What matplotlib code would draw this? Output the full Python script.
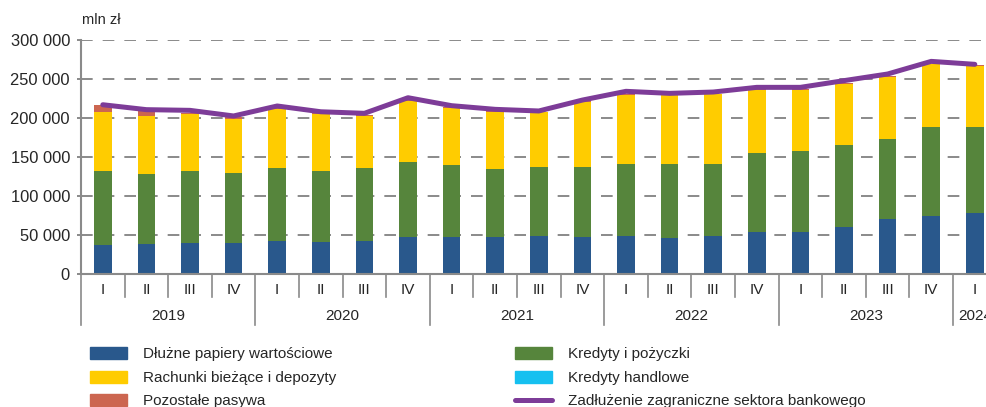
import numpy as np
import matplotlib
matplotlib.use('Agg')
import matplotlib.pyplot as plt
from matplotlib.lines import Line2D
from matplotlib.patches import Patch

plt.rcParams['font.family'] = ['Liberation Sans', 'DejaVu Sans']

quarters = ['I', 'II', 'III', 'IV'] * 5 + ['I']
years = ['2019', '2020', '2021', '2022', '2023', '2024']

# mln zł
debt_securities = [37.2, 38.0, 39.3, 39.3, 41.9, 41.5, 42.7, 47.0, 47.9, 47.0, 48.3,
                   47.9, 49.1, 45.7, 48.7, 53.4, 53.4, 60.7, 70.9, 73.9, 77.8]
loans = [95.2, 90.2, 92.7, 90.2, 93.6, 90.5, 93.2, 96.6, 92.3, 87.6, 88.9,
         89.7, 91.5, 95.3, 92.7, 102.1, 104.7, 105.1, 102.6, 115.0, 110.7]
trade_credits = [0.0] * 21
deposits = [75.6, 74.4, 72.7, 69.2, 76.0, 72.7, 66.7, 78.4, 72.2, 73.4, 70.1,
            82.9, 89.3, 88.5, 88.9, 80.4, 77.8, 77.8, 79.5, 79.9, 78.2]
other = [8.2, 5.9, 2.1, 2.2, 1.5, 1.5, 1.5, 1.2, 1.2, 1.0, 1.0,
         1.0, 1.0, 1.0, 1.0, 1.0, 1.0, 1.0, 1.0, 1.0, 1.2]
total_debt = [217.0, 210.7, 209.8, 202.6, 215.4, 208.0, 206.0, 226.0, 215.8, 211.1, 209.0,
              223.0, 234.2, 231.6, 233.3, 239.3, 239.3, 247.9, 256.4, 272.6, 268.8]

c_blue = '#29588c'
c_green = '#56853c'
c_cyan = '#15c0f0'
c_yellow = '#ffcc00'
c_red = '#cc6650'
c_purple = '#7d3c98'
c_grid = '#8a8a8a'
c_text = '#262626'

fig = plt.figure(figsize=(9.87, 4.07), dpi=100)
ax = fig.add_axes([81 / 987, 133 / 407, 915.6 / 987, 234 / 407])

x = np.arange(len(quarters))
w = 0.4
series = [(debt_securities, c_blue), (loans, c_green), (trade_credits, c_cyan),
          (deposits, c_yellow), (other, c_red)]
bottom = np.zeros(len(x))
for vals, col in series:
    v = np.array(vals) * 1000
    ax.bar(x, v, w, bottom=bottom, color=col, zorder=2)
    bottom += v

ax.plot(x, np.array(total_debt) * 1000, color=c_purple, lw=3.6,
        solid_capstyle='round', solid_joinstyle='round', zorder=3)

ax.set_xlim(-0.5, len(x) - 0.5)
ax.set_ylim(0, 300000)
ax.set_yticks(np.arange(0, 300001, 50000))
ax.set_yticklabels([f'{v:,}'.replace(',', ' ') for v in range(0, 300001, 50000)])
ax.set_axisbelow(True)
lw = 1.4
ax.yaxis.grid(True, color=c_grid, linewidth=lw, linestyle=(0, (8.4 / lw, 7.2 / lw)))
ax.tick_params(axis='y', length=3, width=1.4, color=c_grid, pad=5,
               labelsize=11.9, labelcolor=c_text)
for s in ['top', 'right']:
    ax.spines[s].set_visible(False)
for s in ['left', 'bottom']:
    ax.spines[s].set_color(c_grid)
    ax.spines[s].set_linewidth(1.5)

# x axis: quarter and year labels
ax.set_xticks([])
tr = ax.get_xaxis_transform()
for i, q in enumerate(quarters):
    ax.text(i, -0.068, q, transform=tr, ha='center', va='center',
            fontsize=11, color=c_text)
for i in range(len(x)):
    yb = -0.218 if i % 4 == 0 else -0.098
    ax.add_line(Line2D([i - 0.5, i - 0.5], [0, yb], transform=tr, color=c_grid,
                       lw=1.2, clip_on=False))
for k, yr in enumerate(years):
    n = min(4, len(x) - 4 * k)
    ax.text(4 * k + (n - 1) / 2, -0.179, yr, transform=tr, ha='center', va='center',
            fontsize=11, color=c_text)

fig.text(82 / 987, 1 - 20 / 407, 'mln zł', fontsize=10.5, color=c_text, va='center')

h1 = [Patch(color=c_blue), Patch(color=c_yellow), Patch(color=c_red)]
l1 = ['Dłużne papiery wartościowe', 'Rachunki bieżące i depozyty', 'Pozostałe pasywa']
h2 = [Patch(color=c_green), Patch(color=c_cyan),
      Line2D([], [], color=c_purple, lw=3.6, solid_capstyle='round')]
l2 = ['Kredyty i pożyczki', 'Kredyty handlowe', 'Zadłużenie zagraniczne sektora bankowego']
for hs, ls, xa in [(h1, l1, 90 / 987), (h2, l2, 515 / 987)]:
    fig.legend(hs, ls, loc='upper left', bbox_to_anchor=(xa, 1 - 347 / 407),
               frameon=False, borderpad=0, borderaxespad=0, fontsize=11,
               handlelength=2.42, handleheight=0.85, handletextpad=1.05,
               labelspacing=0.6, labelcolor=c_text)

fig.savefig('out.png', dpi=100)
